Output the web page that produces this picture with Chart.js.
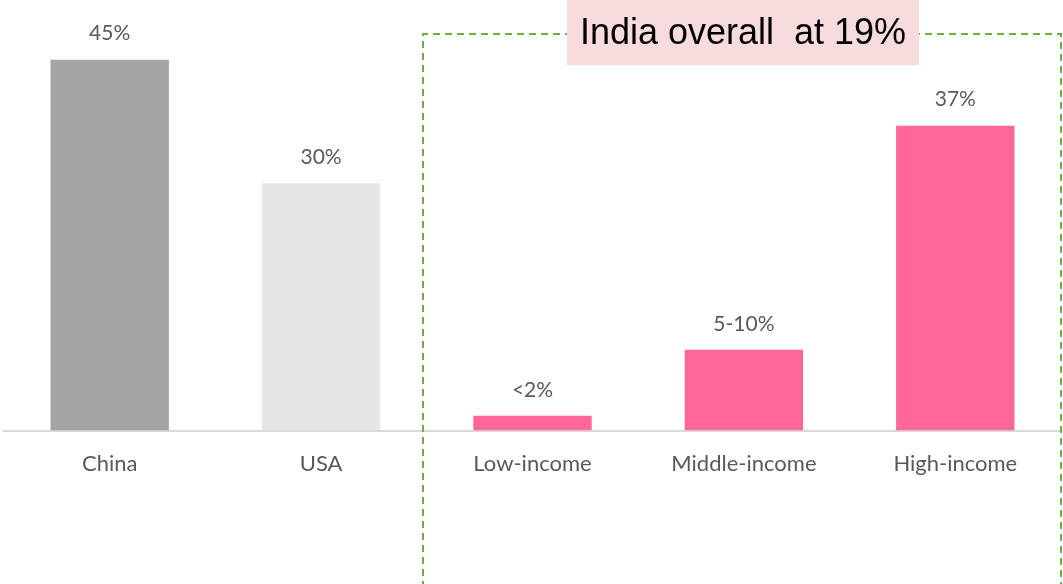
<!DOCTYPE html>
<html>
<head>
<meta charset="utf-8">
<title>Share by income group</title>
<script src="https://cdn.jsdelivr.net/npm/chart.js@4.4.1/dist/chart.umd.min.js"></script>
<style>
	html, body { margin: 0; padding: 0; background: #ffffff; }
	#wrap { position: relative; width: 1063px; height: 584px; }
</style>
</head>
<body>
<div id="wrap"><canvas id="share-chart"></canvas></div>
<script>
// DATA =====================================================

const categories = ["China", "USA", "Low-income", "Middle-income", "High-income"];
const values = [45, 30, 1.8, 9.8, 37];
const valueLabels = ["45%", "30%", "<2%", "5-10%", "37%"];
const barColours = ["#a5a5a5", "#e6e6e6", "#ff6699", "#ff6699", "#ff6699"];
const calloutText = "India overall  at 19%";

// VARIABLES ================================================

let chart = {
	initialise: undefined,
	valueLabelPlugin: undefined,
	calloutPlugin: undefined,
	instance: undefined,
};

// FUNCTIONS ================================================

// writes the value above each bar
chart.valueLabelPlugin = {
	id: "valueLabels",
	afterDatasetsDraw: function (c) {
		const ctx = c.ctx;
		const meta = c.getDatasetMeta(0);
		ctx.save();
		ctx.font = "21px Lato";
		ctx.fillStyle = "#595959";
		ctx.textAlign = "center";
		ctx.textBaseline = "middle";
		for (let i = 0; i < meta.data.length; i++) {
			const bar = meta.data[i];
			ctx.fillText(valueLabels[i], bar.x, bar.y - 26);
		}
		ctx.restore();
	},
};

// dashed frame round the India bars, with the pink heading box
chart.calloutPlugin = {
	id: "callout",
	afterDraw: function (c) {
		const ctx = c.ctx;
		ctx.save();
		ctx.strokeStyle = "#70ad47";
		ctx.lineWidth = 2;
		ctx.setLineDash([7, 5]);
		ctx.beginPath();
		ctx.moveTo(423, 600);
		ctx.lineTo(423, 34);
		ctx.lineTo(1061, 34);
		ctx.lineTo(1061, 600);
		ctx.stroke();
		ctx.setLineDash([]);
		ctx.fillStyle = "#f8dcdd";
		ctx.fillRect(567, 0, 352, 65);
		ctx.fillStyle = "#000000";
		ctx.font = "37px 'Liberation Sans'";
		ctx.textAlign = "center";
		ctx.textBaseline = "middle";
		ctx.fillText(calloutText, 743, 34, 326);
		ctx.restore();
	},
};

chart.initialise = function () {
	const config = {
		type: "bar",
		data: {
			labels: categories,
			datasets: [{ data: values, backgroundColor: barColours, barPercentage: 0.56, categoryPercentage: 1 }],
		},
		options: {
			responsive: true,
			maintainAspectRatio: false,
			animation: false,
			layout: { padding: { left: 4, right: 2, top: 2, bottom: 95 } },
			plugins: { legend: { display: false }, tooltip: { enabled: false } },
			scales: {
				x: {
					grid: { display: false },
					border: { display: true, color: "#d9d9d9", width: 2 },
					ticks: { color: "#595959", font: { family: "Lato", size: 22 }, padding: 12 },
				},
				y: { display: false, min: 0, max: 52 },
			},
		},
		plugins: [chart.valueLabelPlugin, chart.calloutPlugin],
	};
	chart.instance = new Chart(document.getElementById("share-chart"), config);
	return;
};

chart.initialise();

// END ======================================================
</script>
</body>
</html>
